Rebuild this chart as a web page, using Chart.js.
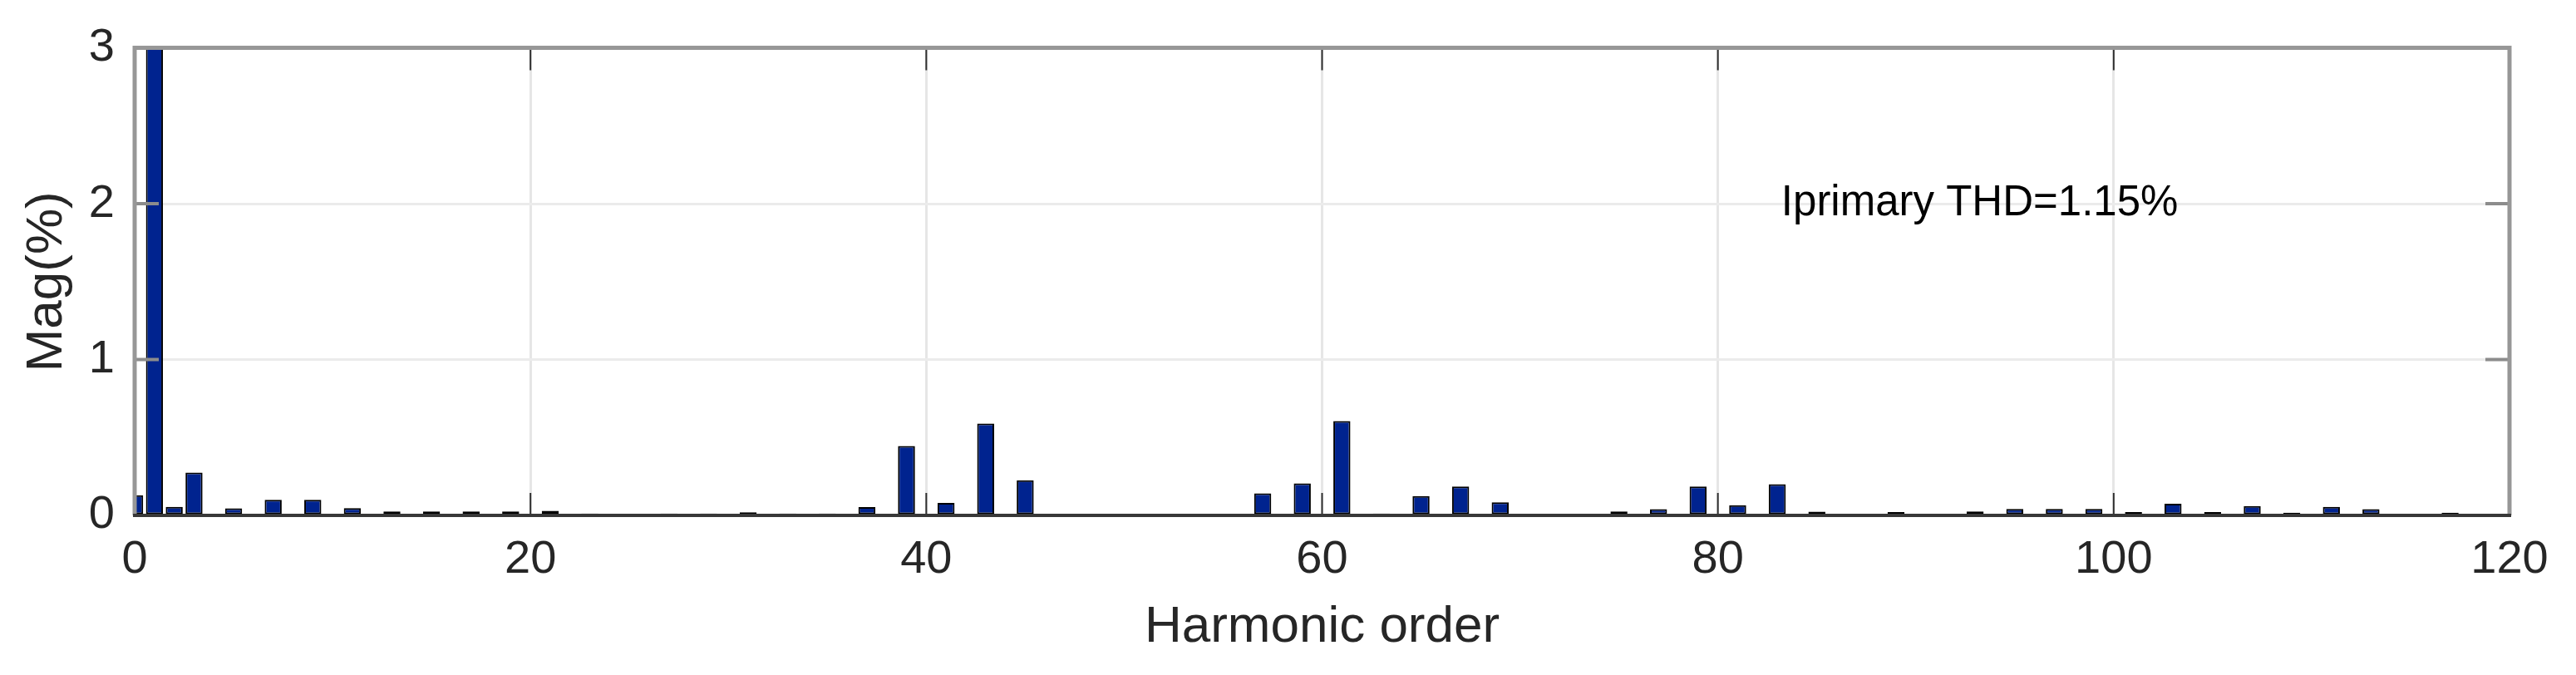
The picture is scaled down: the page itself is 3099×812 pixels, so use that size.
<!DOCTYPE html>
<html>
<head>
<meta charset="utf-8">
<script src="https://cdn.jsdelivr.net/npm/chart.js@4.4.1/dist/chart.umd.min.js"></script>
<style>
  html, body { margin: 0; padding: 0; background: #fff; }
  #wrap { width: 3099px; height: 812px; }
</style>
</head>
<body>
<div id="wrap"><canvas id="thdChart" width="3099" height="812"></canvas></div>
<script>
// harmonic orders 0..119
var harmonicOrder = [
  0, 1, 2, 3, 4, 5, 6, 7, 8, 9, 10, 11, 12, 13, 14, 15, 16, 17, 18, 19,
  20, 21, 22, 23, 24, 25, 26, 27, 28, 29, 30, 31, 32, 33, 34, 35, 36, 37, 38, 39,
  40, 41, 42, 43, 44, 45, 46, 47, 48, 49, 50, 51, 52, 53, 54, 55, 56, 57, 58, 59,
  60, 61, 62, 63, 64, 65, 66, 67, 68, 69, 70, 71, 72, 73, 74, 75, 76, 77, 78, 79,
  80, 81, 82, 83, 84, 85, 86, 87, 88, 89, 90, 91, 92, 93, 94, 95, 96, 97, 98, 99,
  100, 101, 102, 103, 104, 105, 106, 107, 108, 109, 110, 111, 112, 113, 114, 115, 116, 117, 118, 119
];

// magnitude in % of fundamental (fundamental clipped at top)
var magPercent = [
  0.13, 100, 0.055, 0.275, 0.01, 0.045, 0.01, 0.10, 0.01, 0.10,
  0.01, 0.047, 0.008, 0.026, 0.008, 0.026, 0.008, 0.026, 0.008, 0.026,
  0.008, 0.03, 0.006, 0.012, 0.006, 0.01, 0.006, 0.012, 0.006, 0.012,
  0.006, 0.02, 0.006, 0.012, 0.006, 0.012, 0.006, 0.054, 0.006, 0.446,
  0.006, 0.08, 0.006, 0.59, 0.006, 0.226, 0.006, 0.01, 0.006, 0.01,
  0.006, 0.01, 0.006, 0.01, 0.006, 0.01, 0.006, 0.141, 0.006, 0.206,
  0.006, 0.606, 0.006, 0.012, 0.006, 0.124, 0.006, 0.185, 0.006, 0.084,
  0.006, 0.008, 0.006, 0.01, 0.006, 0.026, 0.006, 0.04, 0.006, 0.185,
  0.006, 0.066, 0.006, 0.20, 0.006, 0.024, 0.006, 0.008, 0.006, 0.022,
  0.006, 0.008, 0.006, 0.025, 0.006, 0.042, 0.006, 0.042, 0.006, 0.042,
  0.006, 0.022, 0.006, 0.075, 0.006, 0.022, 0.006, 0.06, 0.006, 0.018,
  0.006, 0.055, 0.006, 0.04, 0.006, 0.01, 0.006, 0.018, 0.006, 0.006
];

var xTicks = [0, 20, 40, 60, 80, 100, 120];
var yTicks = [0, 1, 2, 3];

var annoText = "Iprimary THD=1.15%";
var annoX = 83.2;
var annoY = 2.0;

var FONT = "Arial, 'Liberation Sans', Helvetica, sans-serif";

var points = harmonicOrder.map(function(h, i) {
    return { x: h, y: magPercent[i] };
});

// box, inner ticks and THD label, drawn MATLAB style
var matlabBoxPlugin = {
    id: 'matlabBox',
    afterDatasetsDraw: function(chart) {
        var ctx = chart.ctx;
        var a = chart.chartArea;
        var xs = chart.scales.x;
        var ys = chart.scales.y;

        ctx.save();
        ctx.lineCap = 'butt';

        // y ticks, both sides
        ctx.strokeStyle = '#8c8c8c';
        ctx.lineWidth = 4;
        yTicks.slice(1, -1).forEach(function(v) {
            var py = ys.getPixelForValue(v);
            ctx.beginPath();
            ctx.moveTo(a.left, py); ctx.lineTo(a.left + 29, py);
            ctx.moveTo(a.right, py); ctx.lineTo(a.right - 29, py);
            ctx.stroke();
        });

        // x ticks, top and bottom
        ctx.strokeStyle = '#303030';
        ctx.lineWidth = 2;
        xTicks.slice(1, -1).forEach(function(v) {
            var px = xs.getPixelForValue(v);
            ctx.beginPath();
            ctx.moveTo(px, a.top); ctx.lineTo(px, a.top + 27);
            ctx.moveTo(px, a.bottom); ctx.lineTo(px, a.bottom - 27);
            ctx.stroke();
        });

        // grey box
        ctx.strokeStyle = '#979797';
        ctx.lineWidth = 5;
        ctx.beginPath();
        ctx.moveTo(a.left, a.bottom);
        ctx.lineTo(a.left, a.top);
        ctx.lineTo(a.right, a.top);
        ctx.lineTo(a.right, a.bottom);
        ctx.stroke();

        // dark baseline
        ctx.strokeStyle = '#383838';
        ctx.lineWidth = 4;
        ctx.beginPath();
        ctx.moveTo(a.left - 2, a.bottom);
        ctx.lineTo(a.right + 2, a.bottom);
        ctx.stroke();

        // annotation
        ctx.fillStyle = '#000';
        ctx.font = '51px ' + FONT;
        ctx.textAlign = 'left';
        ctx.textBaseline = 'middle';
        ctx.fillText(annoText, xs.getPixelForValue(annoX), ys.getPixelForValue(annoY));
        ctx.restore();
    }
};

var thdChart = new Chart(document.getElementById('thdChart'), {
    type: 'bar',
    data: {
        datasets: [{
            label: 'Mag',
            data: points,
            backgroundColor: '#00238f',
            borderColor: '#000000',
            borderWidth: 2,
            borderSkipped: false,
            barPercentage: 0.86,
            categoryPercentage: 1.0,
            clip: 0
        }]
    },
    options: {
        responsive: false,
        animation: false,
        devicePixelRatio: 1,
        layout: { padding: { top: 53, right: 80, bottom: 0, left: 0 } },
        plugins: {
            legend: { display: false },
            tooltip: { enabled: false }
        },
        scales: {
            x: {
                type: 'linear',
                min: 0,
                max: 120,
                offset: false,
                afterFit: function(scale) { scale.height = 192; },
                afterBuildTicks: function(scale) {
                    scale.ticks = xTicks.map(function(v) { return { value: v }; });
                },
                grid: {
                    offset: false,
                    color: function(c) {
                        return (c.tick && (c.tick.value === 0 || c.tick.value === 120)) ? 'rgba(0,0,0,0)' : '#e6e6e6';
                    },
                    lineWidth: 3,
                    drawTicks: false
                },
                border: { display: false },
                ticks: {
                    padding: 20,
                    maxRotation: 0,
                    autoSkip: false,
                    color: '#262626',
                    font: { family: FONT, size: 56 }
                },
                title: {
                    display: true,
                    text: 'Harmonic order',
                    color: '#262626',
                    font: { family: FONT, size: 62 },
                    padding: { top: 0, bottom: 20 }
                }
            },
            y: {
                min: 0,
                max: 3,
                afterFit: function(scale) { scale.width = 162; },
                afterBuildTicks: function(scale) {
                    scale.ticks = yTicks.map(function(v) { return { value: v }; });
                },
                grid: {
                    color: function(c) {
                        return (c.tick && (c.tick.value === 0 || c.tick.value === 3)) ? 'rgba(0,0,0,0)' : '#ebebeb';
                    },
                    lineWidth: 3,
                    drawTicks: false
                },
                border: { display: false },
                ticks: {
                    padding: 24,
                    color: '#262626',
                    font: { family: FONT, size: 56 }
                },
                title: {
                    display: true,
                    text: 'Mag(%)',
                    color: '#262626',
                    font: { family: FONT, size: 62 },
                    padding: { top: 20, bottom: 0 }
                }
            }
        }
    },
    plugins: [matlabBoxPlugin]
});
</script>
</body>
</html>
